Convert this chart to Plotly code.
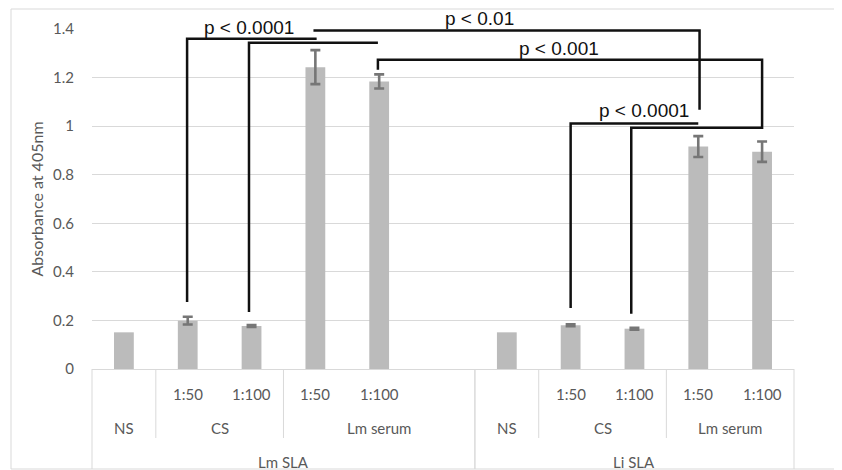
import plotly.graph_objects as go

# ---------------- data ----------------
slot_group = ["Lm SLA"] * 6 + ["Li SLA"] * 5
slot_sample = ["NS", "CS", "CS", "Lm serum", "Lm serum", "Lm serum",
               "NS", "CS", "CS", "Lm serum", "Lm serum"]
slot_dilution = ["", "1:50", "1:100", "1:50", "1:100", "",
                 "", "1:50", "1:100", "1:50", "1:100"]
values = [0.151, 0.199, 0.177, 1.243, 1.184, None,
          0.151, 0.180, 0.166, 0.916, 0.895]
errors = [None, 0.016, 0.004, 0.070, 0.029, None,
          None, 0.004, 0.004, 0.043, 0.042]

# significance brackets: list of (slot index, absorbance) vertices
brackets = [
    [(0.99, 0.276), (0.99, 1.360), (3.02, 1.360)],
    [(1.96, 0.235), (1.96, 1.343), (3.98, 1.343)],
    [(3.98, 1.232), (3.98, 1.273), (10.0, 1.273), (10.0, 0.993), (7.95, 0.993), (7.95, 0.228)],
    [(2.97, 1.394), (9.02, 1.394), (9.02, 1.067)],
    [(9.0, 1.011), (7.0, 1.011), (7.0, 0.251)],
]
p_labels = ["p < 0.0001", "p < 0.01", "p < 0.001", "p < 0.0001"]
p_label_pos = [(1.96, 1.407), (5.57, 1.445), (6.82, 1.321), (8.15, 1.063)]

YMAX = 1.4

# ---------------- layout constants ----------------
OFF = 8                      # page body margin of the html page
PAGE_W, PAGE_H = 842, 470
W, H = PAGE_W - OFF, PAGE_H - OFF
ML, MR, MT, MB = 92 - OFF, 48, 29 - OFF, 101
PW, PH = W - ML - MR, H - MT - MB
n = len(slot_group)

def py2paper(py):            # page pixel -> paper y
    return (MT + PH - (py - OFF)) / PH

def px2paper(px):            # page pixel -> paper x
    return (px - OFF - ML) / PW

def edge(i):                 # slot boundary in paper x
    return i / n

GRID = "#d9d9d9"
TXT = "#595959"
FONT = "Lato"

fig = go.Figure()
fig.add_trace(go.Bar(
    x=list(range(n)), y=values,
    width=0.31,
    marker=dict(color="#bbbbbb", line=dict(width=0)),
    hoverinfo="skip",
))
ex = [i for i, e in enumerate(errors) if e is not None]
fig.add_trace(go.Scatter(
    x=ex, y=[values[i] for i in ex], mode="markers",
    marker=dict(size=1, opacity=0),
    error_y=dict(type="data", array=[errors[i] for i in ex], visible=True,
                 color="#767676", thickness=2.6, width=5),
    hoverinfo="skip",
))

shapes = []
annotations = []

# brackets
for pts in brackets:
    path = "M " + " L ".join(f"{x},{y}" for x, y in pts)
    shapes.append(dict(type="path", path=path, xref="x", yref="y",
                       line=dict(color="#111111", width=2.5)))
for txt, (x, y) in zip(p_labels, p_label_pos):
    annotations.append(dict(text=txt, x=x, y=y / YMAX, xref="x", yref="paper",
                            showarrow=False, xanchor="center", yanchor="middle",
                            font=dict(family="Liberation Sans, Arial", size=19, color="#111111")))

# category axis labels
row_y = [py2paper(394), py2paper(428), py2paper(462)]
inner_bottom = py2paper(438)
outer_bottom = py2paper(469)

for i, d in enumerate(slot_dilution):
    if d:
        annotations.append(dict(text=d, x=(i + 0.5) / n, y=row_y[0], xref="paper", yref="paper",
                                showarrow=False, xanchor="center", yanchor="middle",
                                font=dict(family=FONT, size=15, color=TXT)))

def runs(keys):
    out = []
    start = 0
    for i in range(1, len(keys) + 1):
        if i == len(keys) or keys[i] != keys[start]:
            out.append((start, i))
            start = i
    return out

sample_keys = list(zip(slot_group, slot_sample))
for a, b in runs(sample_keys):
    annotations.append(dict(text=slot_sample[a], x=(a + b) / 2 / n, y=row_y[1],
                            xref="paper", yref="paper", showarrow=False,
                            xanchor="center", yanchor="middle",
                            font=dict(family=FONT, size=15, color=TXT)))
    if a > 0 and slot_group[a] == slot_group[a - 1]:
        shapes.append(dict(type="line", xref="paper", yref="paper",
                           x0=edge(a), x1=edge(a), y0=0, y1=inner_bottom,
                           line=dict(color=GRID, width=1)))

for a, b in runs(slot_group):
    annotations.append(dict(text=slot_group[a], x=(a + b) / 2 / n, y=row_y[2],
                            xref="paper", yref="paper", showarrow=False,
                            xanchor="center", yanchor="middle",
                            font=dict(family=FONT, size=15, color=TXT)))
    for e in (a, b):
        shapes.append(dict(type="line", xref="paper", yref="paper",
                           x0=edge(e), x1=edge(e), y0=0, y1=outer_bottom,
                           line=dict(color=GRID, width=1)))

# outer chart border
shapes.append(dict(type="path", xref="paper", yref="paper",
                   path=f"M {px2paper(PAGE_W + 5)},{py2paper(9)} L {px2paper(11)},{py2paper(9)} "
                        f"L {px2paper(11)},{py2paper(469)} L {px2paper(PAGE_W + 5)},{py2paper(469)}",
                   line=dict(color=GRID, width=1)))

fig.update_layout(
    width=W, height=H,
    margin=dict(l=ML, r=MR, t=MT, b=MB),
    paper_bgcolor="white", plot_bgcolor="white",
    showlegend=False,
    shapes=shapes, annotations=annotations,
    xaxis=dict(range=[-0.5, n - 0.5], showticklabels=False, showgrid=False,
               zeroline=False, showline=True, linecolor=GRID, linewidth=1,
               fixedrange=True),
    yaxis=dict(range=[0, YMAX], dtick=0.2, showgrid=True, gridcolor=GRID, gridwidth=1,
               zeroline=False, showline=False, ticks="", ticklabelstandoff=17,
               tickfont=dict(family=FONT, size=15, color=TXT),
               title=dict(text="Absorbance at 405nm", standoff=5,
                          font=dict(family=FONT, size=16, color=TXT)),
               fixedrange=True),
)

fig.write_html("out.html")
